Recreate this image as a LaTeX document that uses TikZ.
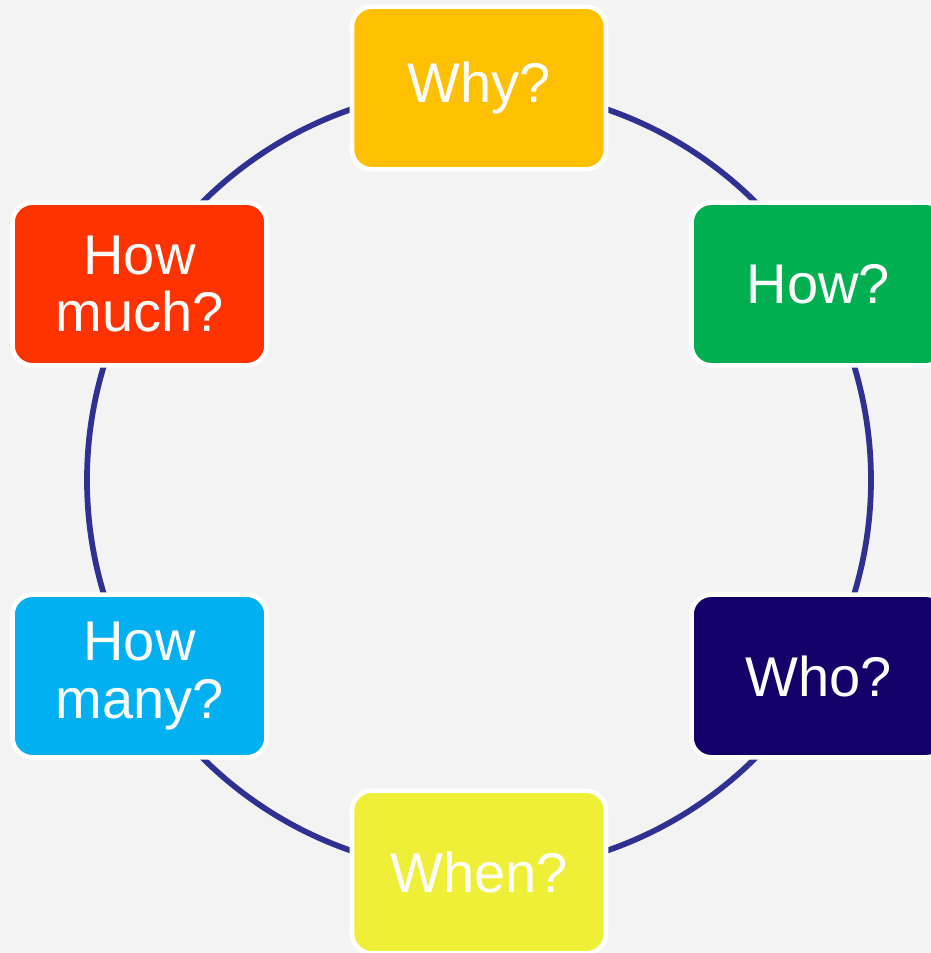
\documentclass[tikz,border=0pt]{standalone}
\usepackage{fontspec}
\setmainfont{Liberation Sans}
\usetikzlibrary{positioning}
\definecolor{bgGray}{HTML}{F3F3F3}
\definecolor{ringBlue}{HTML}{2E3192}
\definecolor{whyCol}{HTML}{FFC000}
\definecolor{howCol}{HTML}{00B050}
\definecolor{whoCol}{HTML}{140068}
\definecolor{whenCol}{HTML}{EFEF38}
\definecolor{manyCol}{HTML}{00B0F0}
\definecolor{muchCol}{HTML}{FF3300}
\tikzset{
	x=0.75pt, y=0.75pt, % one unit is one pixel of the reference
	ring/.style={ringBlue, line width=4.3pt}, % the circle behind the boxes
	qbox/.style={rectangle, rounded corners=15pt, draw=white, line width=3.4pt,
		minimum width=190.5pt, minimum height=122pt, text=white, align=center,
		font=\fontsize{42pt}{43pt}\selectfont}, % sets the look of each question box
}
\begin{document}
\begin{tikzpicture}
			\useasboundingbox[fill=bgGray] (-479,-473) rectangle (452,480);
			\draw[ring] (0,0) circle (392);

			\node[qbox, fill=whyCol] (why) at (90:392) {Why?};
			\node[qbox, fill=howCol] (how) at (30:392) {How?};
			\node[qbox, fill=whoCol] (who) at (-30:392) {Who?};
			\node[qbox, fill=whenCol] (when) at (-90:392) {When?};
			\node[qbox, fill=manyCol] (many) at (210:392) {How\\many?};
			\node[qbox, fill=muchCol] (much) at (150:392) {How\\much?};
		\end{tikzpicture}
\end{document}
